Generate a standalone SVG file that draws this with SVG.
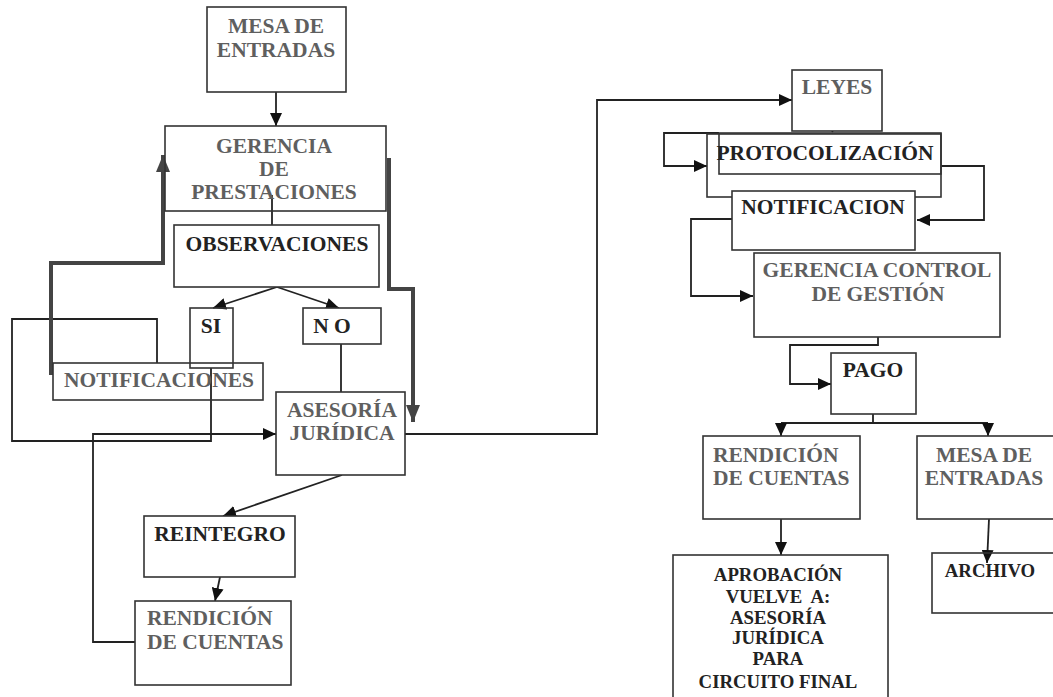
<svg xmlns="http://www.w3.org/2000/svg" width="1053" height="697" viewBox="0 0 1053 697">
<style>
.box{fill:#fff;stroke:#333;stroke-width:1.6}
.t{font-family:"Liberation Serif","Times New Roman",serif;font-weight:bold;font-size:21.5px;text-anchor:middle}
.g{fill:#5f5f5f}
.k{fill:#222}
.s{font-size:18.8px}
.c{fill:none;stroke:#222;stroke-width:1.8}
.th{fill:none;stroke:#444;stroke-width:4}
</style>
<defs>
<marker id="a" markerUnits="userSpaceOnUse" markerWidth="13" markerHeight="12" refX="13" refY="6" orient="auto"><path d="M0,0 L13,6 L0,12 z" fill="#111"/></marker>
<marker id="b" markerUnits="userSpaceOnUse" markerWidth="17" markerHeight="14" refX="17" refY="7" orient="auto"><path d="M0,0 L17,7 L0,14 z" fill="#444"/></marker>
</defs>
<rect width="1053" height="697" fill="#fff"/>
<g id="connectors">
<path class="c" d="M272,195 V225"/>
<path class="c" d="M211,368 V441 H12 V319 H157 V363"/>
<path class="c" d="M341,344 V392"/>
<path class="c" d="M873,414 V423 M781,423 H988"/>
<path class="c" d="M276,92 V126" marker-end="url(#a)"/>
<path class="th" d="M51,375 V263 H163 V155" marker-end="url(#b)"/>
<path class="th" d="M389,158 V289 H413 V422" marker-end="url(#b)"/>
<path class="c" d="M277,287 L213,308" marker-end="url(#a)"/>
<path class="c" d="M277,287 L339,308" marker-end="url(#a)"/>
<path class="c" d="M135,642 H93 V434 H276" marker-end="url(#a)"/>
<path class="c" d="M405,434 H597 V100 H792" marker-end="url(#a)"/>
<path class="c" d="M342,475 L223,516" marker-end="url(#a)"/>
<path class="c" d="M220,577 L215,601" marker-end="url(#a)"/>
<path class="c" d="M848,102 L832,132" marker-end="url(#a)"/>
<path class="c" d="M719,133 H664 V166 H707" marker-end="url(#a)"/>
<path class="c" d="M941,166 H984 V220 H917" marker-end="url(#a)"/>
<path class="c" d="M732,219 H691 V296 H753" marker-end="url(#a)"/>
<path class="c" d="M878,337 V345 H790 V384 H831" marker-end="url(#a)"/>
<path class="c" d="M781,423 V436" marker-end="url(#a)"/>
<path class="c" d="M988,423 V436" marker-end="url(#a)"/>
<path class="c" d="M781,519 V555" marker-end="url(#a)"/>
<path class="c" d="M989,519 L987,563" marker-end="url(#a)"/>
</g>
<g id="mesa1"><rect class="box" x="207" y="7" width="139" height="85"/><text class="t g" x="276" y="33">MESA DE</text><text class="t g" x="276" y="57">ENTRADAS</text></g>
<g id="gerencia"><rect class="box" x="165" y="126" width="221" height="85" style="fill:none"/><text class="t g" x="274" y="153">GERENCIA</text><text class="t g" x="274" y="176">DE</text><text class="t g" x="274" y="199">PRESTACIONES</text></g>
<g id="observaciones"><rect class="box" x="174" y="225" width="205" height="62"/><text class="t k" x="277" y="251">OBSERVACIONES</text></g>
<g id="si"><rect class="box" x="190" y="308" width="43" height="60" style="fill:none"/><text class="t k" x="211" y="333">SI</text></g>
<g id="no"><rect class="box" x="303" y="308" width="78" height="36"/><text class="t k" x="332" y="333">N O</text></g>
<g id="notificaciones"><rect class="box" x="53" y="363" width="210" height="37" style="fill:none"/><text class="t g" x="159" y="387">NOTIFICACIONES</text></g>
<g id="asesoria"><rect class="box" x="276" y="392" width="129" height="83"/><text class="t g" x="342" y="417">ASESORÍA</text><text class="t g" x="342" y="440">JURÍDICA</text></g>
<g id="reintegro"><rect class="box" x="144" y="516" width="151" height="61"/><text class="t k" x="220" y="541">REINTEGRO</text></g>
<g id="rendicion1"><rect class="box" x="135" y="601" width="156" height="84"/><text class="t g" x="147" y="625" style="text-anchor:start">RENDICIÓN</text><text class="t g" x="147" y="649" style="text-anchor:start">DE CUENTAS</text></g>
<g id="leyes"><rect class="box" x="792" y="70" width="90" height="61"/><text class="t g" x="837" y="94">LEYES</text></g>
<g id="protocolizacion"><rect class="box" x="707" y="134" width="234" height="63" style="fill:none"/><rect class="box" x="719" y="133" width="222" height="41" style="fill:none"/><text class="t k" x="825" y="160">PROTOCOLIZACIÓN</text></g>
<g id="notificacion"><rect class="box" x="732" y="191" width="183" height="59"/><text class="t k" x="823" y="214">NOTIFICACION</text></g>
<g id="gcg"><rect class="box" x="754" y="253" width="246" height="84"/><text class="t g" x="877" y="277">GERENCIA CONTROL</text><text class="t g" x="878" y="301">DE GESTIÓN</text></g>
<g id="pago"><rect class="box" x="831" y="353" width="85" height="61"/><text class="t k" x="873" y="377">PAGO</text></g>
<g id="rendicion2"><rect class="box" x="703" y="436" width="157" height="83"/><text class="t g" x="713" y="462" style="text-anchor:start">RENDICIÓN</text><text class="t g" x="713" y="485" style="text-anchor:start">DE CUENTAS</text></g>
<g id="mesa2"><rect class="box" x="917" y="436" width="140" height="83"/><text class="t g" x="984" y="462">MESA DE</text><text class="t g" x="984" y="485">ENTRADAS</text></g>
<g id="aprobacion"><rect class="box" x="673" y="555" width="215" height="150"/><text class="t k s" x="778" y="581">APROBACIÓN</text><text class="t k s" x="778" y="603" style="white-space:pre">VUELVE  A:</text><text class="t k s" x="778" y="624">ASESORÍA</text><text class="t k s" x="778" y="644">JURÍDICA</text><text class="t k s" x="778" y="665">PARA</text><text class="t k s" x="778" y="688">CIRCUITO FINAL</text></g>
<g id="archivo"><rect class="box" x="932" y="553" width="125" height="60" style="fill:none"/><text class="t k s" x="990" y="577">ARCHIVO</text></g>
</svg>
